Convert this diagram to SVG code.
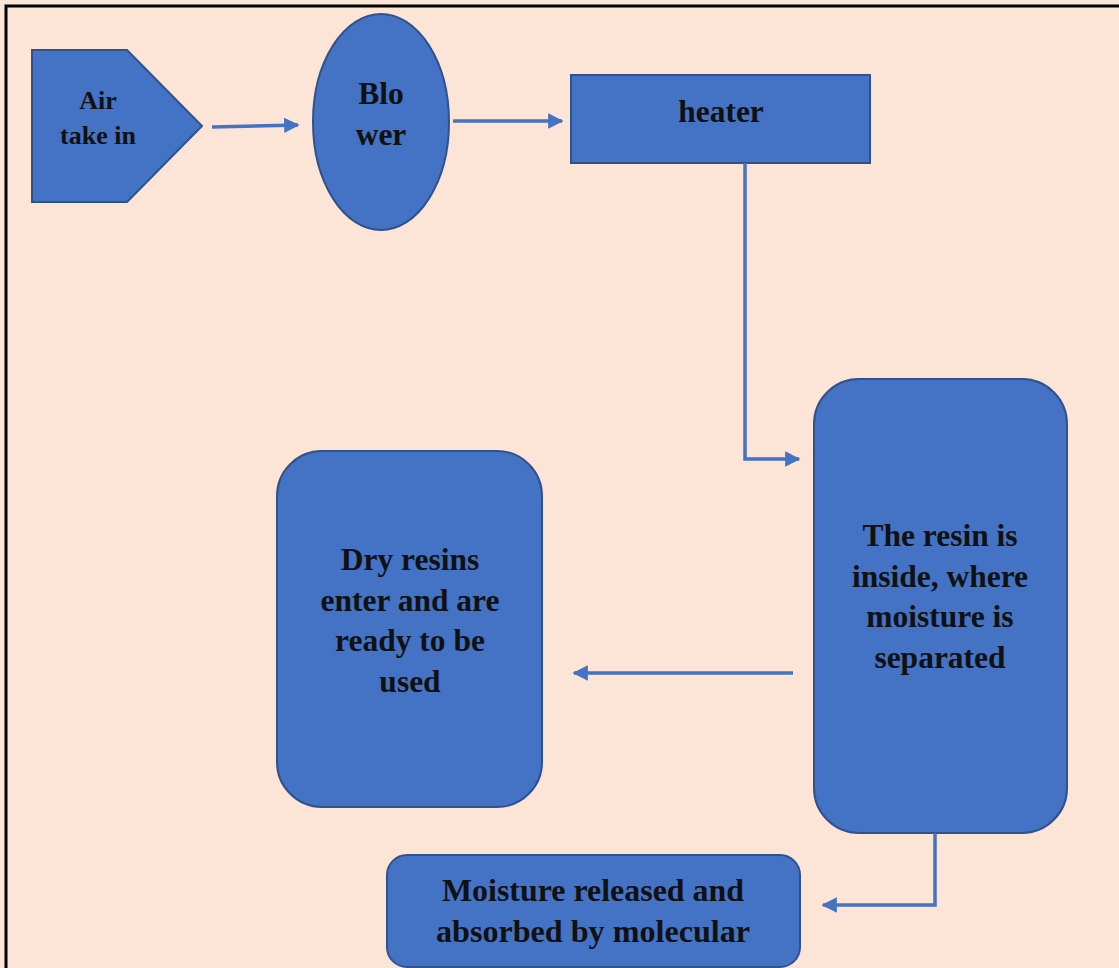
<svg xmlns="http://www.w3.org/2000/svg" width="1119" height="968" viewBox="0 0 1119 968">
  <defs>
    <style>
      .shape { fill: #4472C4; stroke: #2F528F; stroke-width: 2; }
      .lbl { font-family: 'Liberation Serif', 'Tinos', 'Times New Roman', 'DejaVu Serif', serif; font-weight: 700; fill: #111111; text-anchor: middle; }
      .big { font-size: 31.5px; }
      .conn { fill: none; stroke: #4472C4; stroke-width: 3.5; }
    </style>
    <marker id="arrow" viewBox="0 0 10 10" refX="9" refY="5" markerWidth="4.4" markerHeight="4.4" orient="auto" markerUnits="strokeWidth">
      <path d="M0,0 L10,5 L0,10 Z" fill="#4472C4"/>
    </marker>
  </defs>

  <!-- page background and frame -->
  <rect x="0" y="0" width="1119" height="968" fill="#FCE4D6"/>
  <path d="M6,968 V6 H1119" fill="none" stroke="#000000" stroke-width="3"/>

  <g id="air-intake">
    <polygon class="shape" points="32,50 127,50 202,126 127,202 32,202"/>
    <text class="lbl" font-size="26" x="98" y="109">Air</text>
    <text class="lbl" font-size="26" x="98" y="144">take in</text>
  </g>

  <g id="blower">
    <ellipse class="shape" cx="381" cy="122" rx="68" ry="108"/>
    <text class="lbl big" x="381" y="104">Blo</text>
    <text class="lbl big" x="381" y="145">wer</text>
  </g>

  <g id="heater">
    <rect class="shape" x="571" y="75" width="299" height="88"/>
    <text class="lbl big" x="721" y="122">heater</text>
  </g>

  <g id="dryer">
    <rect class="shape" x="814" y="379" width="253" height="454" rx="45" ry="45"/>
    <text class="lbl big" x="940" y="546">The resin is</text>
    <text class="lbl big" x="940" y="587">inside, where</text>
    <text class="lbl big" x="940" y="627">moisture is</text>
    <text class="lbl big" x="940" y="668">separated</text>
  </g>

  <g id="dry-resins">
    <rect class="shape" x="277" y="451" width="265" height="356" rx="45" ry="45"/>
    <text class="lbl big" x="410" y="570">Dry resins</text>
    <text class="lbl big" x="410" y="611">enter and are</text>
    <text class="lbl big" x="410" y="651">ready to be</text>
    <text class="lbl big" x="410" y="692">used</text>
  </g>

  <g id="moisture">
    <rect class="shape" x="387" y="855" width="413" height="112" rx="20" ry="20"/>
    <text class="lbl" font-size="31" x="593" y="901" textLength="302" lengthAdjust="spacingAndGlyphs">Moisture released and</text>
    <text class="lbl" font-size="31" x="593" y="942" textLength="314" lengthAdjust="spacingAndGlyphs">absorbed by molecular</text>
  </g>

  <g id="connectors">
    <path class="conn" d="M212,127 L298,125" marker-end="url(#arrow)"/>
    <path class="conn" d="M453,121 L562,121" marker-end="url(#arrow)"/>
    <path class="conn" d="M745,163 V459 H799" marker-end="url(#arrow)"/>
    <path class="conn" d="M793,673 H574" marker-end="url(#arrow)"/>
    <path class="conn" d="M935,833 V905 H823" marker-end="url(#arrow)"/>
  </g>
</svg>
